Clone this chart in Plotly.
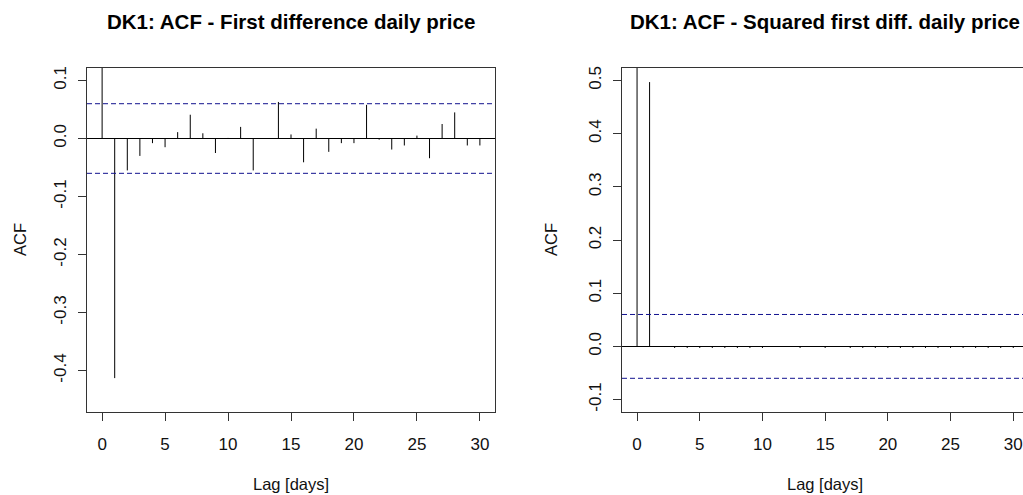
import plotly.graph_objects as go

# ---- data ----
lags = list(range(31))
acf_diff = [1.0, -0.413, -0.055, -0.030, -0.008, -0.015, 0.011, 0.041, 0.009, -0.025,
            0.001, 0.020, -0.055, 0.000, 0.063, 0.007, -0.041, 0.017, -0.023, -0.008,
            -0.008, 0.058, -0.002, -0.019, -0.012, 0.005, -0.034, 0.025, 0.045, -0.012,
            -0.012]
acf_sq = [1.0, 0.497, 0.000, -0.003, -0.003, -0.003, -0.003, -0.003, -0.003, -0.003,
          -0.003, 0.000, 0.000, -0.003, 0.000, -0.003, 0.000, -0.003, -0.003, -0.003,
          -0.003, -0.003, -0.003, -0.003, -0.003, -0.003, -0.003, -0.003, -0.003, -0.003,
          -0.003]
conf_level = 0.060
x_ticks = [0, 5, 10, 15, 20, 25, 30]
y_ticks_left = [-0.4, -0.3, -0.2, -0.1, 0.0, 0.1]
y_ticks_right = [-0.1, 0.0, 0.1, 0.2, 0.3, 0.4, 0.5]
titles = ["DK1: ACF - First difference daily price",
          "DK1: ACF - Squared first diff. daily price"]
x_title = "Lag [days]"
y_title = "ACF"

W, H = 1023, 495
FONT = "Liberation Sans, Arial, sans-serif"
LINE = "#333333"


def fx(X):
    return X / W


def fy(Y):
    return 1 - Y / H


def segs(xs, ys):
    sx, sy = [], []
    for a, b in zip(xs, ys):
        sx += [a, a, None]
        sy += [0, b, None]
    return sx, sy


def lab(v):
    return f"{v:.1f}"


fig = go.Figure()
for i, vals in enumerate([acf_diff, acf_sq]):
    sx, sy = segs(lags, vals)
    fig.add_trace(go.Scatter(x=sx, y=sy, mode="lines",
                             line=dict(color="black", width=1),
                             xaxis="x" if i == 0 else "x2",
                             yaxis="y" if i == 0 else "y2",
                             showlegend=False, hoverinfo="skip"))

xdom_l = [fx(87), fx(495)]
xdom_r = [fx(622), 1.0]
ydom = [fy(412), fy(66)]

ax_common = dict(showgrid=False, showline=True, linecolor=LINE, linewidth=1,
                 ticks="outside", ticklen=8, tickcolor=LINE, tickwidth=1,
                 tickfont=dict(family=FONT, size=17, color="#111"))

fig.update_layout(
    width=W, height=H, margin=dict(l=0, r=0, t=0, b=0),
    paper_bgcolor="white", plot_bgcolor="white",
    xaxis=dict(domain=xdom_l, range=[-1.2, 31.2], anchor="y", mirror=True,
               zeroline=False, tickvals=x_ticks, ticktext=[str(t) for t in x_ticks],
               ticklabelstandoff=8, **ax_common),
    yaxis=dict(domain=ydom, range=[-0.472, 0.122], anchor="x", mirror=True,
               zeroline=True, zerolinecolor="black", zerolinewidth=1,
               tickvals=y_ticks_left, ticktext=[lab(v) for v in y_ticks_left],
               tickangle=-90, ticklabelstandoff=5, **ax_common),
    xaxis2=dict(domain=xdom_r, range=[-1.2, -1.2 + (1023 - 622) / 12.54], anchor="y2",
                mirror=True, zeroline=False, tickvals=x_ticks,
                ticktext=[str(t) for t in x_ticks], ticklabelstandoff=8, **ax_common),
    yaxis2=dict(domain=ydom, range=[-0.124, 0.524], anchor="x2", mirror=False,
                zeroline=True, zerolinecolor="black", zerolinewidth=1,
                tickvals=y_ticks_right, ticktext=[lab(v) for v in y_ticks_right],
                tickangle=-90, ticklabelstandoff=5, **ax_common),
)

# confidence bands
for xr, yr in [("x", "y"), ("x2", "y2")]:
    for s in (1, -1):
        fig.add_shape(type="line", xref=f"{xr} domain", yref=yr,
                      x0=0, x1=1, y0=s * conf_level, y1=s * conf_level,
                      line=dict(color="#12128f", width=1, dash="5px,3px"))

# titles and axis titles
for cxp, t, ylab_x in [(291, titles[0], 20), (825, titles[1], 551)]:
    fig.add_annotation(text=f"<b>{t}</b>", x=fx(cxp), y=fy(20), xref="paper", yref="paper",
                       showarrow=False, xanchor="center", yanchor="middle",
                       font=dict(family=FONT, size=20.5, color="black"))
    fig.add_annotation(text=x_title, x=fx(cxp), y=fy(484), xref="paper", yref="paper",
                       showarrow=False, xanchor="center", yanchor="middle",
                       font=dict(family=FONT, size=16.5, color="#111"))
    fig.add_annotation(text=y_title, x=fx(ylab_x), y=(ydom[0] + ydom[1]) / 2,
                       xref="paper", yref="paper", textangle=-90,
                       showarrow=False, xanchor="center", yanchor="middle",
                       font=dict(family=FONT, size=16.5, color="#111"))

fig.write_html("out.html",
               config={"displayModeBar": False},
               post_script="document.body.style.margin='0';"
                           "document.body.style.overflow='hidden';")
